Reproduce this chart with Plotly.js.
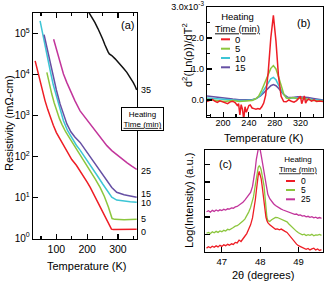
<!DOCTYPE html>
<html><head><meta charset="utf-8">
<script src="https://cdn.plot.ly/plotly-3.0.1.min.js"></script>
<style>html,body{margin:0;padding:0;background:#fff}#chart{width:325px;height:281px}</style>
</head><body><div id="chart"></div>
<script>
// ---------- Panel (a): resistivity vs temperature (values as log10 of mOhm-cm) ----------
const heatA = ['0', '5', '10', '15', '25', '35'];
const tempA0 = [31, 40, 47, 55, 63, 72, 80, 90, 100, 112, 123, 135, 150, 165, 177, 190, 200, 210, 220, 232, 242, 254, 264, 272, 279, 285, 300, 320, 340, 361];
const logRhoA0 = [4.33, 4.05, 3.80, 3.57, 3.36, 3.14, 2.95, 2.76, 2.58, 2.42, 2.26, 2.10, 1.92, 1.78, 1.65, 1.50, 1.37, 1.24, 1.09, 0.92, 0.76, 0.58, 0.43, 0.30, 0.22, 0.21, 0.21, 0.21, 0.21, 0.22];
const tempA5 = [69, 75, 85, 93, 101, 110, 118, 130, 145, 160, 177, 193, 210, 226, 242, 256, 269, 276, 281, 290, 320, 361];
const logRhoA5 = [4.05, 3.82, 3.52, 3.30, 3.11, 2.92, 2.78, 2.60, 2.42, 2.24, 2.06, 1.86, 1.65, 1.45, 1.24, 1.02, 0.76, 0.58, 0.48, 0.46, 0.45, 0.46];
const tempA10 = [47, 55, 63, 72, 80, 90, 101, 112, 123, 136, 150, 165, 177, 193, 210, 231, 250, 265, 280, 296, 320, 340, 361];
const logRhoA10 = [5.31, 5.00, 4.74, 4.40, 4.09, 3.74, 3.44, 3.15, 2.87, 2.63, 2.44, 2.27, 2.15, 1.98, 1.80, 1.55, 1.33, 1.17, 1.00, 0.93, 0.90, 0.89, 0.88];
const tempA15 = [60, 67, 74, 82, 90, 100, 112, 123, 134, 147, 160, 177, 193, 210, 231, 250, 265, 280, 296, 320, 340, 361];
const logRhoA15 = [4.97, 4.72, 4.50, 4.20, 3.93, 3.62, 3.28, 3.02, 2.79, 2.60, 2.47, 2.34, 2.17, 1.98, 1.76, 1.56, 1.40, 1.24, 1.12, 1.06, 1.03, 1.00];
const tempA25 = [91, 96, 101, 112, 123, 134, 145, 160, 177, 193, 210, 228, 246, 264, 280, 296, 315, 330, 345, 361];
const logRhoA25 = [4.86, 4.72, 4.58, 4.28, 4.01, 3.80, 3.60, 3.36, 3.11, 2.95, 2.80, 2.62, 2.43, 2.26, 2.14, 2.04, 1.92, 1.84, 1.76, 1.68];
const tempA35 = [205, 215, 225, 235, 242, 250, 258, 264, 268, 272, 280, 291, 300, 307, 318, 329, 340, 350, 356, 361];
const logRhoA35 = [5.52, 5.40, 5.27, 5.12, 5.02, 4.87, 4.72, 4.60, 4.55, 4.50, 4.46, 4.38, 4.31, 4.25, 4.15, 4.05, 3.93, 3.80, 3.71, 3.62];
const labelLogA = [0.16, 0.46, 0.86, 1.08, 1.63, 3.63];
const yTickValsA = [1, 10, 100, 1000, 10000, 100000];
const yTickTextA = ['10<sup>0</sup>', '10<sup>1</sup>', '10<sup>2</sup>', '10<sup>3</sup>', '10<sup>4</sup>', '10<sup>5</sup>'];

// ---------- Panel (b): d2(ln rho)/dT2 (x10^-3) ----------
const heatB = ['0', '5', '10', '15'];
const tempB0 = [175, 179, 183, 187, 191, 195, 199, 203, 207, 211, 215, 219, 222, 224, 226, 228, 230, 232, 234, 236, 238, 240, 242, 245, 248, 251, 254, 257, 260, 263, 266, 270, 274, 278, 282, 286, 290, 294, 298, 302, 306, 310, 314, 318, 320, 322, 324, 326, 328, 330, 333, 337, 341, 345, 350, 355];
const d2B0 = [-0.05, -0.02, 0.02, -0.04, -0.08, -0.03, -0.06, -0.10, -0.12, -0.06, -0.04, -0.09, -0.18, -0.12, -0.48, -0.15, -0.30, -0.62, -0.22, -0.40, -0.30, -0.18, -0.16, -0.26, -0.28, -0.30, -0.28, -0.30, -0.22, -0.10, 0.15, 0.9, 2.0, 2.73, 1.9, 0.75, 0.12, -0.05, -0.06, 0.00, -0.04, -0.07, -0.02, 0.08, 0.12, -0.12, 0.02, 0.13, -0.10, -0.02, 0.03, -0.04, 0.00, -0.05, -0.03, -0.05];
const tempB5 = [175, 185, 195, 205, 215, 225, 235, 245, 250, 255, 260, 265, 270, 274, 278, 282, 286, 290, 294, 298, 302, 308, 315, 322, 330, 340, 355];
const d2B5 = [0.02, -0.01, -0.03, -0.04, -0.02, -0.05, -0.03, -0.02, 0.03, 0.12, 0.32, 0.58, 0.85, 1.02, 1.11, 1.0, 0.75, 0.45, 0.2, 0.06, 0.05, 0.08, 0.04, 0.06, 0.02, -0.02, -0.04];
const tempB10 = [175, 185, 195, 205, 215, 225, 235, 245, 252, 258, 264, 270, 274, 278, 282, 286, 290, 294, 298, 302, 310, 318, 326, 335, 345, 355];
const d2B10 = [0.06, 0.04, 0.02, 0.0, -0.01, -0.02, -0.02, 0.0, 0.05, 0.15, 0.35, 0.56, 0.68, 0.73, 0.65, 0.48, 0.32, 0.18, 0.08, 0.05, 0.07, 0.06, 0.04, 0.02, 0.0, -0.02];
const tempB15 = [175, 185, 195, 205, 215, 225, 235, 245, 252, 258, 264, 270, 274, 278, 282, 286, 290, 294, 300, 308, 316, 324, 332, 340, 348, 355];
const d2B15 = [0.13, 0.10, 0.07, 0.05, 0.03, 0.01, 0.0, 0.01, 0.05, 0.13, 0.25, 0.38, 0.46, 0.50, 0.46, 0.38, 0.28, 0.18, 0.09, 0.08, 0.10, 0.10, 0.08, 0.05, 0.02, 0.0];
const yTickValsB = [0, 1, 2, 3];
const yTickTextB = ['0.0', '1.0', '2.0', '3.0x10<sup>-3</sup>'];

// ---------- Panel (c): XRD log intensity (a.u.) vs 2theta ----------
const heatC = ['0', '5', '25'];
const twoTheta = [46.60, 46.65, 46.70, 46.75, 46.80, 46.85, 46.90, 46.95, 47.00, 47.05, 47.10, 47.15, 47.20, 47.25, 47.30, 47.35, 47.40, 47.45, 47.50, 47.55, 47.60, 47.65, 47.70, 47.75,
  47.80, 47.825, 47.85, 47.875, 47.90, 47.925, 47.95, 47.975, 48.00, 48.025, 48.05, 48.075, 48.10, 48.125, 48.15, 48.175,
  48.20, 48.25, 48.30, 48.35, 48.40, 48.45, 48.50, 48.55, 48.60, 48.65, 48.70, 48.75, 48.80, 48.85, 48.90, 48.95, 49.00, 49.05, 49.10, 49.15, 49.20, 49.25, 49.30, 49.35, 49.40, 49.45, 49.50, 49.55, 49.60];
const logIC0 = [0.22, 0.30, 0.24, 0.33, 0.27, 0.35, 0.29, 0.38, 0.32, 0.41, 0.36, 0.44, 0.39, 0.47, 0.43, 0.55, 0.52, 0.68, 0.60, 0.78, 0.90, 1.05, 1.28, 1.55,
  1.95, 2.25, 2.6, 3.0, 3.5, 4.0, 4.4, 4.6, 4.45, 4.2, 3.8, 3.3, 2.85, 2.35, 2.0, 1.8,
  1.68, 1.55, 1.45, 1.37, 1.30, 1.32, 1.27, 1.31, 1.22, 1.18, 1.12, 0.98, 0.85, 0.72, 0.58, 0.45, 0.36, 0.30, 0.26, 0.22, 0.15, 0.20, 0.12, 0.18, 0.22, 0.12, 0.17, 0.09, 0.14];
const logIC5 = [1.07, 1.12, 1.05, 1.15, 1.10, 1.18, 1.12, 1.20, 1.16, 1.24, 1.20, 1.30, 1.27, 1.36, 1.40, 1.48, 1.50, 1.58, 1.66, 1.77, 1.88, 2.05, 2.28, 2.55,
  2.90, 3.15, 3.5, 3.9, 4.3, 4.65, 4.85, 4.92, 4.85, 4.7, 4.45, 4.15, 3.8, 3.2, 2.5, 2.0,
  1.8, 1.75, 1.84, 1.93, 1.98, 1.97, 1.92, 1.88, 1.85, 1.80, 1.72, 1.60, 1.48, 1.38, 1.28, 1.18, 1.10, 1.05, 0.98, 1.02, 0.94, 0.99, 0.95, 1.01, 0.93, 0.98, 0.96, 1.00, 0.95];
const logIC25 = [2.30, 2.36, 2.28, 2.38, 2.32, 2.40, 2.34, 2.41, 2.37, 2.44, 2.40, 2.47, 2.45, 2.52, 2.50, 2.58, 2.60, 2.68, 2.74, 2.84, 2.96, 3.12, 3.25, 3.40,
  3.75, 4.05, 4.4, 4.8, 5.3, 5.7, 5.88, 5.95, 5.85, 5.55, 5.2, 4.9, 4.55, 4.15, 3.8, 3.5,
  3.3, 3.05, 2.88, 2.76, 2.66, 2.58, 2.51, 2.45, 2.40, 2.36, 2.31, 2.29, 2.24, 2.22, 2.15, 2.17, 2.10, 2.12, 2.05, 2.08, 2.01, 2.04, 1.98, 2.02, 1.95, 1.99, 1.93, 1.97, 1.92];

// ---------- colours ----------
const cRed = '#ee1d25', cGreen = '#8cc63e', cCyan = '#3dc5d5', cPurple = '#6650a4', cMagenta = '#c2359b', cBlack = '#111111';
const colorsA = [cRed, cGreen, cCyan, cPurple, cMagenta, cBlack];
const colorsB = [cRed, cGreen, cCyan, cPurple];
const colorsC = [cRed, cGreen, cMagenta];

const W = 325, H = 281;
const px = x => x / W, py = y => 1 - y / H;
const FF = '"Liberation Sans", Arial, sans-serif';

const pow10 = arr => arr.map(v => Math.pow(10, v));
const seriesA = [[tempA0, logRhoA0], [tempA5, logRhoA5], [tempA10, logRhoA10], [tempA15, logRhoA15], [tempA25, logRhoA25], [tempA35, logRhoA35]];
const seriesB = [[tempB0, d2B0], [tempB5, d2B5], [tempB10, d2B10], [tempB15, d2B15]];
const seriesC = [logIC0, logIC5, logIC25];

const traces = [];
seriesB.forEach((s, i) => traces.push({x: s[0], y: s[1], xaxis: 'x2', yaxis: 'y2', mode: 'lines', line: {color: colorsB[i], width: 1.5}, showlegend: false, hoverinfo: 'skip'}));
traces.reverse(); // red drawn on top in (b)
seriesA.forEach((s, i) => traces.push({x: s[0], y: pow10(s[1]), xaxis: 'x', yaxis: 'y', mode: 'lines', line: {color: colorsA[i], width: 1.5}, showlegend: false, hoverinfo: 'skip'}));
[2, 1, 0].forEach(i => traces.push({x: twoTheta, y: seriesC[i], xaxis: 'x3', yaxis: 'y3', mode: 'lines', line: {color: colorsC[i], width: 1.3}, showlegend: false, hoverinfo: 'skip'}));

const axBase = {showline: true, linecolor: '#000', linewidth: 1.3, ticks: 'inside', tickcolor: '#000', tickwidth: 1.2, showgrid: false, zeroline: false, tickfont: {family: FF, size: 10, color: '#000'}};

const annotations = [];
const shapes = [];
function ann(x, y, text, size, opts) {
  annotations.push(Object.assign({xref: 'paper', yref: 'paper', x: px(x), y: py(y), xanchor: 'center', yanchor: 'middle', text: text, showarrow: false, font: {family: FF, size: size, color: '#000'}}, opts || {}));
}
// axis titles
ann(86, 266, 'Temperature (K)', 11);
ann(9, 123, 'Resistivity (mΩ-cm)', 11, {textangle: -90});
ann(263, 138, 'Temperature (K)', 11);
ann(187, 55, 'd<sup>2</sup>(Ln(ρ))/dT<sup>2</sup>', 11, {textangle: -90});
ann(263, 275, '2θ (degrees)', 11);
ann(189, 201, 'Log(Intensity) (a.u.)', 11, {textangle: -90});
// panel letters
ann(127, 25, '(a)', 11);
ann(303, 23, '(b)', 11);
ann(225, 164, '(c)', 11);
// panel (a) right-side labels
heatA.forEach((h, i) => annotations.push({xref: 'paper', yref: 'y', x: px(139), y: labelLogA[i], xanchor: 'left', yanchor: 'middle', text: h, showarrow: false, font: {family: FF, size: 9, color: '#000'}}));
// panel (a) box
ann(142.5, 119, 'Heating<br><u>Time (min)</u>', 8, {bgcolor: '#fff', bordercolor: '#000', borderwidth: 1, borderpad: 1.5});
// panel (b) legend
ann(237, 23, 'Heating<br><u>Time (min)</u>', 9.5);
const legYB = [39.3, 48.7, 58, 67.3];
heatB.forEach((h, i) => {
  shapes.push({type: 'line', xref: 'paper', yref: 'paper', x0: px(221), x1: px(230), y0: py(legYB[i]), y1: py(legYB[i]), line: {color: colorsB[i], width: 2}});
  ann(233, legYB[i], h, 9.5, {xanchor: 'left'});
});
// panel (c) legend
ann(298, 164.5, 'Heating<br><u>Time (min)</u>', 8);
const legYC = [181, 190, 199.3];
heatC.forEach((h, i) => {
  shapes.push({type: 'line', xref: 'paper', yref: 'paper', x0: px(286), x1: px(295), y0: py(legYC[i]), y1: py(legYC[i]), line: {color: colorsC[i], width: 2}});
  ann(299, legYC[i], h, 8.5, {xanchor: 'left'});
});

const layout = {
  width: W, height: H, margin: {l: 0, r: 0, t: 0, b: 0}, paper_bgcolor: '#fff', plot_bgcolor: '#fff',
  font: {family: FF, color: '#000'},
  xaxis: Object.assign({}, axBase, {domain: [px(33), px(137)], range: [24, 362], anchor: 'y', tick0: 0, dtick: 100, ticklen: 5, mirror: 'ticks',
    minor: {dtick: 50, ticklen: 3, ticks: 'inside', tickcolor: '#000'}, tickfont: {family: FF, size: 10.5, color: '#000'}}),
  yaxis: Object.assign({}, axBase, {domain: [py(239), py(13)], type: 'log', range: [-0.02, 5.5], anchor: 'x', tickvals: yTickValsA, ticktext: yTickTextA, ticklen: 5, mirror: true,
    tickfont: {family: FF, size: 10, color: '#000'}}),
  xaxis2: Object.assign({}, axBase, {domain: [px(207), px(323)], range: [175, 355], anchor: 'y2', tick0: 200, dtick: 40, ticklen: 5, mirror: true, ticklabelstandoff: -3,
    minor: {dtick: 20, ticklen: 3, ticks: 'inside', tickcolor: '#000'}, tickfont: {family: FF, size: 9, color: '#000'}}),
  yaxis2: Object.assign({}, axBase, {domain: [py(117), py(7)], range: [-0.55, 3.0], anchor: 'x2', tickvals: yTickValsB, ticktext: yTickTextB, ticklen: 5, mirror: true,
    minor: {dtick: 0.5, ticklen: 3, ticks: 'inside', tickcolor: '#000'}, tickfont: {family: FF, size: 9, color: '#000'}}),
  xaxis3: Object.assign({}, axBase, {domain: [px(205), px(323)], range: [46.56, 49.64], anchor: 'y3', tick0: 47, dtick: 1, ticklen: 5, mirror: true,
    tickfont: {family: FF, size: 9.5, color: '#000'}}),
  yaxis3: Object.assign({}, axBase, {domain: [py(252), py(150)], range: [0, 5.83], anchor: 'x3', tick0: 0, dtick: 1, ticklen: 5, mirror: true, showticklabels: false}),
  annotations: annotations,
  shapes: shapes
};

Plotly.newPlot('chart', traces, layout, {staticPlot: true, displayModeBar: false});
</script>
</body></html>
